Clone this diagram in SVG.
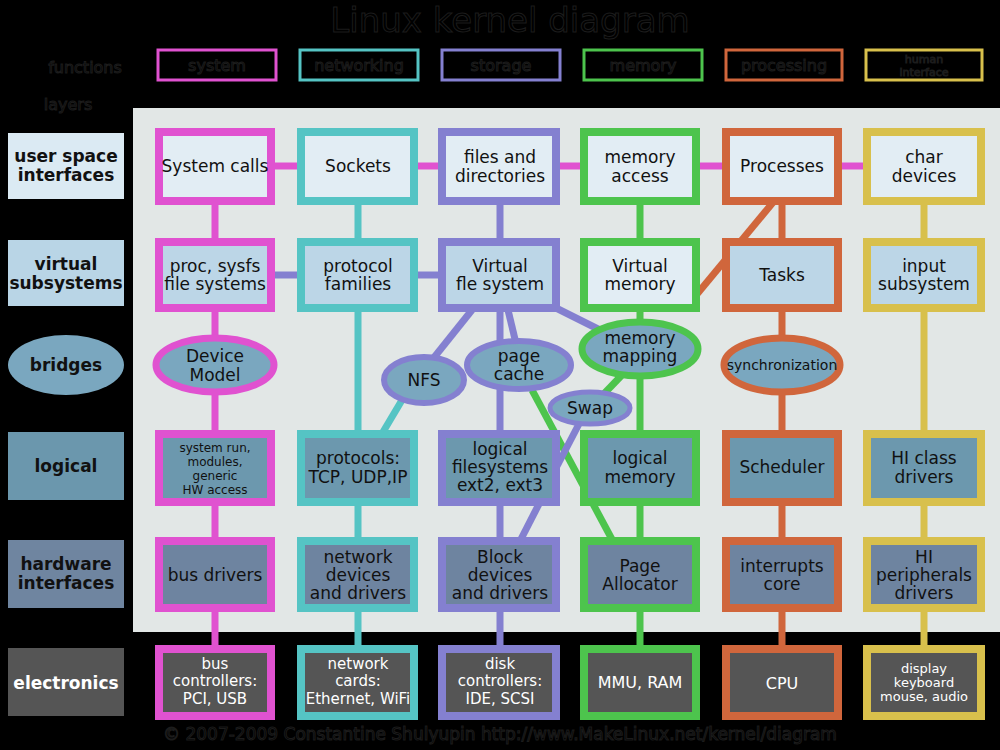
<svg xmlns="http://www.w3.org/2000/svg" width="1000" height="750" viewBox="0 0 1000 750">
<style>
text{font-family:"DejaVu Sans","Liberation Sans",sans-serif;text-anchor:middle;fill:#111}
.dark{fill:#000;stroke:#1c1c1c;stroke-width:1}
.l{font-weight:bold;font-size:17px}
.n{font-size:17px}
.w{fill:#fff}
.b{stroke-width:8}
.pk{stroke:#e052d0}.cy{stroke:#55c4c4}.pu{stroke:#8480d0}.gr{stroke:#4dc44d}.or{stroke:#d0663c}.ye{stroke:#d8c04c}
.u{fill:#e2edf4}.v{fill:#bcd6e7}.g{fill:#6c98ae}.h{fill:#6e84a0}.e{fill:#555}
#connectors line{stroke-width:7}
</style>
<rect width="1000" height="750" fill="#000"/>
<text class="dark" x="510" y="32" font-size="34">Linux kernel diagram</text>
<text class="dark" x="85" y="73" font-size="16">functions</text>
<text class="dark" x="68" y="110" font-size="16">layers</text>
<g fill="none" stroke-width="3">
<rect x="158" y="50" width="118" height="30" stroke="#e052d0"/><text class="dark" x="217" y="71" font-size="16">system</text>
<rect x="300" y="50" width="118" height="30" stroke="#55c4c4"/><text class="dark" x="359" y="71" font-size="16">networking</text>
<rect x="442" y="50" width="118" height="30" stroke="#8480d0"/><text class="dark" x="501" y="71" font-size="16">storage</text>
<rect x="584" y="50" width="118" height="30" stroke="#4dc44d"/><text class="dark" x="643" y="71" font-size="16">memory</text>
<rect x="726" y="50" width="116" height="30" stroke="#d0663c"/><text class="dark" x="784" y="71" font-size="16">processing</text>
<rect x="866" y="50" width="116" height="30" stroke="#d8c04c"/><text class="dark" x="924" y="63" font-size="11">human</text><text class="dark" x="924" y="76" font-size="11">interface</text>
</g>
<rect x="133" y="108" width="867" height="524" fill="#e2e7e6"/>
<g id="layers">
<rect x="8" y="133" width="116" height="66" fill="#dbeaf3"/><text class="l" x="66" y="162">user space</text><text class="l" x="66" y="181">interfaces</text>
<rect x="8" y="240" width="116" height="66" fill="#b9d5e6"/><text class="l" x="66" y="270">virtual</text><text class="l" x="66" y="289">subsystems</text>
<ellipse cx="66" cy="365" rx="58" ry="30" fill="#7aa7bf"/><text class="l" x="66" y="371">bridges</text>
<rect x="8" y="432" width="116" height="68" fill="#6b97ad"/><text class="l" x="66" y="472">logical</text>
<rect x="8" y="540" width="116" height="68" fill="#6f85a0"/><text class="l" x="66" y="570">hardware</text><text class="l" x="66" y="589">interfaces</text>
<rect x="8" y="648" width="116" height="68" fill="#555"/><text class="l w" x="66" y="689">electronics</text>
</g>
<g id="connectors">
<line class="pk" x1="275" y1="166" x2="297" y2="166"/><line class="pk" x1="418" y1="166" x2="438" y2="166"/><line class="pk" x1="560" y1="166" x2="580" y2="166"/><line class="pk" x1="700" y1="166" x2="722" y2="166"/><line class="pk" x1="842" y1="166" x2="863" y2="166"/>
<line class="pu" x1="275" y1="275" x2="297" y2="275"/><line class="pu" x1="418" y1="275" x2="438" y2="275"/>
<line class="pk" x1="215" y1="205" x2="215" y2="645"/>
<line class="cy" x1="358" y1="205" x2="358" y2="645"/>
<line class="pu" x1="500" y1="205" x2="500" y2="238"/><line class="pu" x1="500" y1="312" x2="500" y2="645"/>
<line class="gr" x1="640" y1="205" x2="640" y2="645"/>
<line class="or" x1="782" y1="205" x2="782" y2="645"/>
<line class="ye" x1="924" y1="205" x2="924" y2="645"/>
<line class="or" x1="775" y1="200" x2="688" y2="305"/>
<line class="pu" x1="550" y1="305" x2="610" y2="335"/>
<line class="pu" x1="472" y1="310" x2="420" y2="375"/>
<line class="pu" x1="508" y1="310" x2="520" y2="360"/>
<line class="cy" x1="405" y1="395" x2="383" y2="432"/>
<line class="gr" x1="532" y1="390" x2="615" y2="545"/>
<line class="gr" x1="622" y1="375" x2="598" y2="400"/>
<line class="pu" x1="580" y1="422" x2="555" y2="470"/>
<line class="pu" x1="540" y1="502" x2="518" y2="545"/>
</g>
<g id="n-syscalls"><rect class="b pk u" x="159" y="132" width="112" height="69"/><text class="n" x="215" y="172">System calls</text></g>
<g id="n-sockets"><rect class="b cy u" x="301" y="132" width="113" height="69"/><text class="n" x="358" y="172">Sockets</text></g>
<g id="n-files"><rect class="b pu u" x="442" y="132" width="114" height="69"/><text class="n" x="500" y="163">files and</text><text class="n" x="500" y="182">directories</text></g>
<g id="n-memaccess"><rect class="b gr u" x="584" y="132" width="112" height="69"/><text class="n" x="640" y="163">memory</text><text class="n" x="640" y="182">access</text></g>
<g id="n-processes"><rect class="b or u" x="726" y="132" width="112" height="69"/><text class="n" x="782" y="172">Processes</text></g>
<g id="n-char"><rect class="b ye u" x="867" y="132" width="114" height="69"/><text class="n" x="924" y="163">char</text><text class="n" x="924" y="182">devices</text></g>

<g id="n-proc"><rect class="b pk v" x="159" y="242" width="112" height="66"/><text class="n" x="215" y="272">proc, sysfs</text><text class="n" x="215" y="290">file systems</text></g>
<g id="n-protofam"><rect class="b cy v" x="301" y="242" width="113" height="66"/><text class="n" x="358" y="272">protocol</text><text class="n" x="358" y="290">families</text></g>
<g id="n-vfs"><rect class="b pu v" x="442" y="242" width="114" height="66"/><text class="n" x="500" y="272">Virtual</text><text class="n" x="500" y="290">fle system</text></g>
<g id="n-vmem"><rect class="b gr u" x="584" y="242" width="112" height="66"/><text class="n" x="640" y="272">Virtual</text><text class="n" x="640" y="290">memory</text></g>
<g id="n-tasks"><rect class="b or v" x="726" y="242" width="112" height="66"/><text class="n" x="782" y="281">Tasks</text></g>
<g id="n-input"><rect class="b ye v" x="867" y="242" width="114" height="66"/><text class="n" x="924" y="272">input</text><text class="n" x="924" y="290">subsystem</text></g>

<g id="n-devmodel"><ellipse class="pk" cx="215" cy="365" rx="59" ry="27" fill="#7aa7bf" stroke-width="7"/><text class="n" x="215" y="362">Device</text><text class="n" x="215" y="381">Model</text></g>
<g id="n-nfs"><ellipse class="pu" cx="424" cy="380" rx="40" ry="23" fill="#7aa7bf" stroke-width="6"/><text class="n" x="424" y="386">NFS</text></g>
<g id="n-pagecache"><ellipse class="pu" cx="519" cy="365" rx="52" ry="24" fill="#7aa7bf" stroke-width="6"/><text class="n" x="519" y="362">page</text><text class="n" x="519" y="380">cache</text></g>
<g id="n-mmap"><ellipse class="gr" cx="640" cy="349" rx="58" ry="27" fill="#7aa7bf" stroke-width="7"/><text class="n" x="640" y="344">memory</text><text class="n" x="640" y="362">mapping</text></g>
<g id="n-swap"><ellipse class="pu" cx="590" cy="408" rx="40" ry="16" fill="#7aa7bf" stroke-width="5"/><text class="n" x="590" y="414">Swap</text></g>
<g id="n-sync"><ellipse class="or" cx="782" cy="365" rx="58" ry="27" fill="#7aa7bf" stroke-width="7"/><text x="782" y="370" font-size="14">synchronization</text></g>

<g id="n-sysrun"><rect class="b pk g" x="159" y="434" width="112" height="68"/><text x="215" y="452" font-size="12">system run,</text><text x="215" y="466" font-size="12">modules,</text><text x="215" y="480" font-size="12">generic</text><text x="215" y="494" font-size="12">HW access</text></g>
<g id="n-protocols"><rect class="b cy g" x="301" y="434" width="113" height="68"/><text class="n" x="358" y="464">protocols:</text><text class="n" x="358" y="483">TCP, UDP,IP</text></g>
<g id="n-logfs"><rect class="b pu g" x="442" y="434" width="114" height="68"/><text class="n" x="500" y="455">logical</text><text class="n" x="500" y="473">filesystems</text><text class="n" x="500" y="491">ext2, ext3</text></g>
<g id="n-logmem"><rect class="b gr g" x="584" y="434" width="112" height="68"/><text class="n" x="640" y="464">logical</text><text class="n" x="640" y="483">memory</text></g>
<g id="n-sched"><rect class="b or g" x="726" y="434" width="112" height="68"/><text class="n" x="782" y="473">Scheduler</text></g>
<g id="n-hiclass"><rect class="b ye g" x="867" y="434" width="114" height="68"/><text class="n" x="924" y="464">HI class</text><text class="n" x="924" y="483">drivers</text></g>

<g id="n-bus"><rect class="b pk h" x="159" y="541" width="112" height="67"/><text class="n" x="215" y="581">bus drivers</text></g>
<g id="n-netdev"><rect class="b cy h" x="301" y="541" width="113" height="67"/><text class="n" x="358" y="563">network</text><text class="n" x="358" y="581">devices</text><text class="n" x="358" y="599">and drivers</text></g>
<g id="n-block"><rect class="b pu h" x="442" y="541" width="114" height="67"/><text class="n" x="500" y="563">Block</text><text class="n" x="500" y="581">devices</text><text class="n" x="500" y="599">and drivers</text></g>
<g id="n-pagealloc"><rect class="b gr h" x="584" y="541" width="112" height="67"/><text class="n" x="640" y="572">Page</text><text class="n" x="640" y="590">Allocator</text></g>
<g id="n-irq"><rect class="b or h" x="726" y="541" width="112" height="67"/><text class="n" x="782" y="572">interrupts</text><text class="n" x="782" y="590">core</text></g>
<g id="n-hiperiph"><rect class="b ye h" x="867" y="541" width="114" height="67"/><text class="n" x="924" y="563">HI</text><text class="n" x="924" y="581">peripherals</text><text class="n" x="924" y="599">drivers</text></g>

<g id="n-busctl"><rect class="b pk e" x="159" y="649" width="112" height="67"/><text class="w" x="215" y="669" font-size="15">bus</text><text class="w" x="215" y="686" font-size="15">controllers:</text><text class="w" x="215" y="704" font-size="15">PCI, USB</text></g>
<g id="n-netcards"><rect class="b cy e" x="301" y="649" width="113" height="67"/><text class="w" x="358" y="669" font-size="15">network</text><text class="w" x="358" y="686" font-size="15">cards:</text><text class="w" x="358" y="704" font-size="15">Ethernet, WiFi</text></g>
<g id="n-disk"><rect class="b pu e" x="442" y="649" width="114" height="67"/><text class="w" x="500" y="669" font-size="15">disk</text><text class="w" x="500" y="686" font-size="15">controllers:</text><text class="w" x="500" y="704" font-size="15">IDE, SCSI</text></g>
<g id="n-mmu"><rect class="b gr e" x="584" y="649" width="112" height="67"/><text class="w" x="640" y="688" font-size="16">MMU, RAM</text></g>
<g id="n-cpu"><rect class="b or e" x="726" y="649" width="112" height="67"/><text class="w" x="782" y="689" font-size="16">CPU</text></g>
<g id="n-display"><rect class="b ye e" x="867" y="649" width="114" height="67"/><text class="w" x="924" y="673" font-size="13">display</text><text class="w" x="924" y="687" font-size="13">keyboard</text><text class="w" x="924" y="701" font-size="13">mouse, audio</text></g>
<text class="dark" x="500" y="740" font-size="17">© 2007-2009 Constantine Shulyupin http://www.MakeLinux.net/kernel/diagram</text>
</svg>
